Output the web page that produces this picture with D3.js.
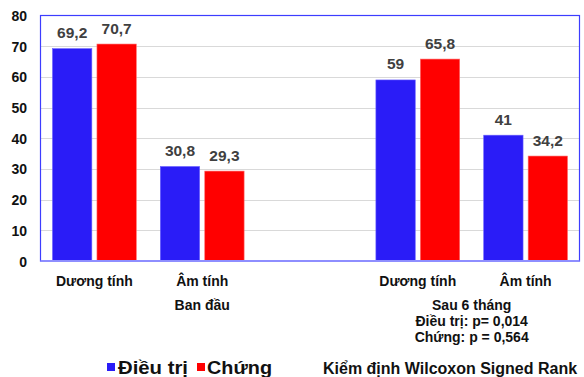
<!DOCTYPE html>
<html>
<head>
<meta charset="utf-8">
<script src="https://cdn.jsdelivr.net/npm/d3@7"></script>
<style>
  html, body { margin: 0; padding: 0; background: #fff; }
  svg { display: block; }
  text { font-family: "Liberation Sans", Arial, sans-serif; }
</style>
</head>
<body>
<svg id="chart" width="584" height="377"></svg>
<script>
// Category slots along the x axis (the empty slot separates the two time points)
const categories = ["Dương tính", "Âm tính", "", "Dương tính", "Âm tính"];
// Percentages per slot
const treatment = [69.2, 30.8, null, 59, 41];
const control   = [70.7, 29.3, null, 65.8, 34.2];
const seriesNames = ["Điều trị", "Chứng"];
const seriesColors = ["#2a1cf7", "#ff0000"];
const valueLabels = [["69,2", "30,8", "", "59", "41"], ["70,7", "29,3", "", "65,8", "34,2"]];
const yTicks = [0, 10, 20, 30, 40, 50, 60, 70, 80];
// Time-point labels, anchored to a slot position (fractional = between slots)
const groupLabels = [
  { lines: ["Ban đầu"], at: 1 },
  { lines: ["Sau 6 tháng", "Điều trị: p= 0,014", "Chứng: p = 0,564"], at: 3.5 }
];
const testNote = "Kiểm định Wilcoxon Signed Rank";

const svg = d3.select("#chart");
const plot = { left: 40.5, right: 579.5, top: 15.5, bottom: 261 };

const x = d3.scaleBand()
  .domain(d3.range(categories.length))
  .range([plot.left, plot.right])
  .paddingInner(0).paddingOuter(0);

const xs = d3.scaleBand()
  .domain([0, 1])
  .range([12, x.bandwidth() - 12])
  .paddingInner(0.115);

const y = d3.scaleLinear().domain([0, 80]).range([plot.bottom, plot.top]);

// Gridlines
svg.append("g")
  .selectAll("line")
  .data(yTicks.filter(t => t > 0 && t < 80))
  .join("line")
  .attr("x1", plot.left).attr("x2", plot.right)
  .attr("y1", d => Math.round(y(d)) + 0.5).attr("y2", d => Math.round(y(d)) + 0.5)
  .attr("stroke", "#d9d9d9").attr("stroke-width", 1);

// Y axis labels
const yAxis = d3.axisLeft(y).tickValues(yTicks).tickSize(0).tickPadding(0);
const gy = svg.append("g").attr("transform", "translate(27,0)").call(yAxis);
gy.select(".domain").remove();
gy.selectAll("text")
  .attr("font-family", "Liberation Sans, Arial, sans-serif")
  .attr("font-size", 14).attr("font-weight", "bold").attr("fill", "#111")
  .attr("dy", "0.36em");

// Bars
const series = [treatment, control];
series.forEach((vals, si) => {
  const g = svg.append("g");
  const items = vals.map((v, i) => ({ v, i, lab: valueLabels[si][i] })).filter(d => d.v != null);
  g.selectAll("rect")
    .data(items)
    .join("rect")
    .attr("x", d => x(d.i) + xs(si))
    .attr("width", xs.bandwidth())
    .attr("y", d => y(d.v))
    .attr("height", d => y(0) - y(d.v))
    .attr("fill", seriesColors[si])
    .attr("stroke", si === 0 ? "#6a60ff" : "#ff6a6a")
    .attr("stroke-width", 0.6);
  g.selectAll("text")
    .data(items)
    .join("text")
    .attr("x", d => x(d.i) + xs(si) + xs.bandwidth() / 2)
    .attr("y", d => y(d.v) - 10.5)
    .attr("text-anchor", "middle")
    .attr("font-family", "Lato, 'Open Sans', sans-serif")
    .attr("font-weight", "bold")
    .attr("font-size", 15.5)
    .attr("fill", "#404040")
    .text(d => d.lab);
});

// Plot frame and baseline
svg.append("rect")
  .attr("x", plot.left).attr("y", plot.top)
  .attr("width", plot.right - plot.left).attr("height", plot.bottom - plot.top)
  .attr("fill", "none").attr("stroke", "#3d3dff").attr("stroke-width", 1.2);
svg.append("line")
  .attr("x1", plot.left).attr("x2", plot.right)
  .attr("y1", plot.bottom).attr("y2", plot.bottom)
  .attr("stroke", "#8e8eff").attr("stroke-width", 2);

// Category labels
svg.append("g")
  .selectAll("text")
  .data(categories.map((c, i) => ({ c, i })).filter(d => d.c))
  .join("text")
  .attr("x", d => x(d.i) + x.bandwidth() / 2)
  .attr("y", 286)
  .attr("text-anchor", "middle")
  .attr("font-size", 14).attr("font-weight", "bold").attr("fill", "#111")
  .text(d => d.c);

// Time-point labels
groupLabels.forEach(gl => {
  const cx = x(0) + (gl.at + 0.5) * x.bandwidth();
  gl.lines.forEach((ln, k) => {
    svg.append("text")
      .attr("x", cx)
      .attr("y", 310 + k * 16)
      .attr("text-anchor", "middle")
      .attr("font-size", 14)
      .attr("font-weight", "bold").attr("fill", "#111")
      .text(ln);
  });
});

// Legend
const legend = [
  { name: seriesNames[0], color: seriesColors[0], sx: 107, tx: 118, w: 70 },
  { name: seriesNames[1], color: seriesColors[1], sx: 197, tx: 207, w: 65 }
];
legend.forEach(l => {
  svg.append("rect").attr("x", l.sx).attr("y", 363).attr("width", 8).attr("height", 8).attr("fill", l.color);
  svg.append("text").attr("x", l.tx).attr("y", 374)
    .attr("font-size", 19).attr("font-weight", "bold").attr("fill", "#111")
    .attr("textLength", l.w).attr("lengthAdjust", "spacingAndGlyphs")
    .text(l.name);
});
svg.append("text").attr("x", 323).attr("y", 374)
  .attr("font-size", 16).attr("font-weight", "bold").attr("fill", "#111")
  .text(testNote);
</script>
</body>
</html>
